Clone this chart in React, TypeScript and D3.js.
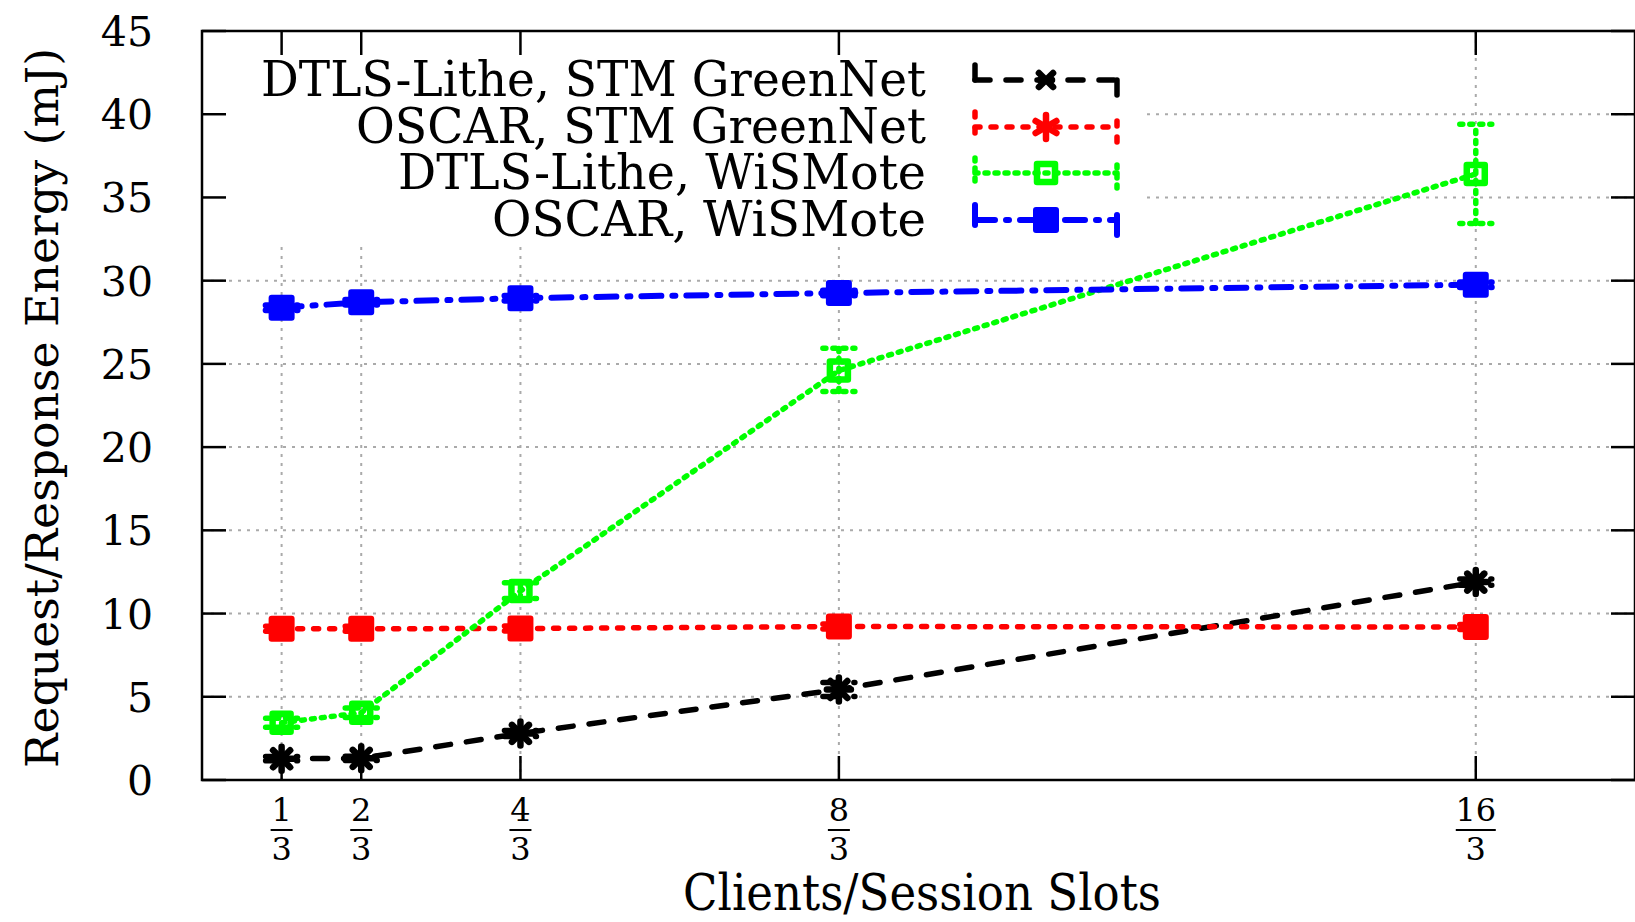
import React from 'react';
import * as d3 from 'd3';

// x positions are clients per session slot
const xValues = [1 / 3, 2 / 3, 4 / 3, 8 / 3, 16 / 3];
const xNumerators = ['1', '2', '4', '8', '16'];
const xDenominator = '3';
const yTicks = [0, 5, 10, 15, 20, 25, 30, 35, 40, 45];

const seriesLabels = [
  'DTLS-Lithe, STM GreenNet',
  'OSCAR, STM GreenNet',
  'DTLS-Lithe, WiSMote',
  'OSCAR, WiSMote',
];

const dtlsStm = [1.28, 1.3, 2.8, 5.44, 11.89];
const dtlsStmLow = [1.15, 1.17, 2.62, 5.02, 11.7];
const dtlsStmHigh = [1.41, 1.43, 2.98, 5.86, 12.08];

const oscarStm = [9.09, 9.09, 9.1, 9.22, 9.19];
const oscarStmLow = [8.94, 8.94, 8.95, 9.07, 9.04];
const oscarStmHigh = [9.24, 9.24, 9.25, 9.37, 9.34];

const dtlsWis = [3.44, 4.04, 11.35, 24.6, 36.41];
const dtlsWisLow = [3.17, 3.75, 10.9, 23.34, 33.44];
const dtlsWisHigh = [3.71, 4.33, 11.85, 25.94, 39.4];

const oscarWis = [28.38, 28.7, 28.95, 29.26, 29.76];
const oscarWisLow = [28.23, 28.55, 28.8, 29.11, 29.61];
const oscarWisHigh = [28.53, 28.85, 29.1, 29.41, 29.91];

const W = 1635, H = 922;
const m = { left: 202, right: 1635, top: 31, bottom: 780 };
const FONT = '"DejaVu Serif", "Liberation Serif", Times, serif';

const x = d3.scaleLinear().domain([0, 6]).range([m.left, m.right]);
const y = d3.scaleLinear().domain([0, 45]).range([m.bottom, m.top]);

type Style = { color: string; dash: string; width: number; marker: string; legendMarker: string };

const styles: Style[] = [
  { color: '#000000', dash: '15,16', width: 5.5, marker: 'asterisk', legendMarker: 'cross' },
  { color: '#ff0000', dash: '5,11', width: 5.5, marker: 'filled', legendMarker: 'star' },
  { color: '#00ff00', dash: '3,7', width: 5.5, marker: 'open', legendMarker: 'open' },
  { color: '#0000ff', dash: '20,11,3,11', width: 6, marker: 'filled', legendMarker: 'filled' },
];

const series = [
  { values: dtlsStm, low: dtlsStmLow, high: dtlsStmHigh },
  { values: oscarStm, low: oscarStmLow, high: oscarStmHigh },
  { values: dtlsWis, low: dtlsWisLow, high: dtlsWisHigh },
  { values: oscarWis, low: oscarWisLow, high: oscarWisHigh },
];

// measured widths of the key labels in the reference
const legendWidths = [665, 570, 528, 434];

function Marker({ type, cx, cy, color }: { type: string; cx: number; cy: number; color: string }) {
  if (type === 'asterisk' || type === 'cross' || type === 'star') {
    const angles = type === 'asterisk' ? [0, 45, 90, 135] : type === 'cross' ? [45, 135, 0] : [90, 30, 150];
    const r = type === 'cross' ? 10 : 12;
    return (
      <g>
        {angles.map((a, i) => {
          const rr = type === 'cross' && a === 0 ? 6 : r;
          const dx = Math.cos((a * Math.PI) / 180) * rr;
          const dy = Math.sin((a * Math.PI) / 180) * rr;
          return (
            <line key={i} x1={cx - dx} y1={cy - dy} x2={cx + dx} y2={cy + dy}
              stroke={color} strokeWidth={6.5} strokeLinecap="round" />
          );
        })}
      </g>
    );
  }
  if (type === 'open') {
    return <rect x={cx - 9} y={cy - 9} width={18} height={18} fill="none" stroke={color} strokeWidth={6.5} strokeLinejoin="round" />;
  }
  return <rect x={cx - 10} y={cy - 10} width={20} height={20} fill={color} stroke={color} strokeWidth={6} strokeLinejoin="round" />;
}

export default function App() {
  const line = d3.line<number>().x((_, i) => x(xValues[i])).y(d => y(d));
  const legendRows = [80, 127, 173, 220];
  const capW = 16;
  const textStyle = { fontFamily: FONT };

  return (
    <svg width={W} height={H} viewBox={`0 0 ${W} ${H}`}
      style={{ position: 'absolute', left: 0, top: 0, background: '#fff' }}>
      <rect width={W} height={H} fill="#fff" />

      {/* grid */}
      <g stroke="#aaaaaa" strokeWidth={2} strokeDasharray="3,6">
        {yTicks.slice(1, -1).map(t => (
          <line key={'gy' + t} x1={m.left} x2={m.right} y1={y(t)} y2={y(t)} />
        ))}
        {xValues.map((v, i) => (
          <line key={'gx' + i} x1={x(v)} x2={x(v)} y1={m.top} y2={m.bottom} />
        ))}
      </g>

      {/* opaque key box */}
      <rect x={m.left} y={m.top} width={1142 - m.left} height={245 - m.top} fill="#fff" />

      {/* series */}
      {series.map((s, si) => {
        const st = styles[si];
        return (
          <g key={'s' + si}>
            <path d={line(s.values) || ''} fill="none" stroke={st.color} strokeWidth={st.width}
              strokeDasharray={st.dash} strokeLinecap="round" strokeLinejoin="round" />
            {s.values.map((v, i) => {
              const cx = x(xValues[i]);
              return (
                <g key={'e' + i} stroke={st.color} strokeWidth={st.width} strokeDasharray={st.dash} strokeLinecap="round" fill="none">
                  <line x1={cx} x2={cx} y1={y(s.low[i])} y2={y(s.high[i])} />
                  <line x1={cx - capW} x2={cx + capW} y1={y(s.low[i])} y2={y(s.low[i])} />
                  <line x1={cx - capW} x2={cx + capW} y1={y(s.high[i])} y2={y(s.high[i])} />
                </g>
              );
            })}
            {s.values.map((v, i) => (
              <Marker key={'m' + i} type={st.marker} cx={x(xValues[i])} cy={y(v)} color={st.color} />
            ))}
          </g>
        );
      })}

      {/* frame and ticks */}
      <g stroke="#000" strokeWidth={2.5}>
        {yTicks.map(t => (
          <g key={'ty' + t}>
            <line x1={m.left} x2={m.left + 24} y1={y(t)} y2={y(t)} />
            <line x1={m.right - 24} x2={m.right} y1={y(t)} y2={y(t)} />
          </g>
        ))}
        {xValues.map((v, i) => (
          <g key={'tx' + i}>
            <line x1={x(v)} x2={x(v)} y1={m.bottom} y2={m.bottom - 24} />
            <line x1={x(v)} x2={x(v)} y1={m.top} y2={m.top + 24} />
          </g>
        ))}
        <rect x={m.left} y={m.top} width={m.right - m.left} height={m.bottom - m.top} fill="none" />
      </g>

      {/* y tick labels */}
      <g fontSize={41} textAnchor="end" fill="#000">
        {yTicks.map(t => (
          <text key={'yl' + t} x={153} y={y(t) + 15} style={textStyle}>{t}</text>
        ))}
      </g>

      {/* x tick labels as fractions */}
      <g fontSize={32} textAnchor="middle" fill="#000">
        {xValues.map((v, i) => {
          const cx = x(v);
          const bw = xNumerators[i].length * 18 + 4;
          return (
            <g key={'xl' + i}>
              <text x={cx} y={821} style={textStyle}>{xNumerators[i]}</text>
              <line x1={cx - bw / 2} x2={cx + bw / 2} y1={830} y2={830} stroke="#000" strokeWidth={2} />
              <text x={cx} y={860} style={textStyle}>{xDenominator}</text>
            </g>
          );
        })}
      </g>

      {/* axis titles */}
      <text x={922} y={910} style={textStyle} fontSize={50} textAnchor="middle" fill="#000"
        textLength={478} lengthAdjust="spacingAndGlyphs">
        Clients/Session Slots
      </text>
      <text transform="translate(58,408) rotate(-90)" style={textStyle} fontSize={44}
        textAnchor="middle" fill="#000" textLength={720} lengthAdjust="spacingAndGlyphs">
        Request/Response Energy (mJ)
      </text>

      {/* legend */}
      {seriesLabels.map((label, i) => {
        const st = styles[i];
        const ry = legendRows[i];
        const x0 = 975, x1 = 1117, mx = 1046;
        return (
          <g key={'lg' + i}>
            <text x={926} y={ry + 16} style={textStyle} fontSize={49} textAnchor="end" fill="#000"
              textLength={legendWidths[i]} lengthAdjust="spacingAndGlyphs">
              {label}
            </text>
            <g stroke={st.color} strokeWidth={st.width} strokeDasharray={st.dash} strokeLinecap="round" fill="none">
              <line x1={x0} x2={x1} y1={ry} y2={ry} />
              <line x1={x0} x2={x0} y1={ry - 15} y2={ry + 15} />
              <line x1={x1} x2={x1} y1={ry + 15} y2={ry - 15} />
            </g>
            <Marker type={st.legendMarker} cx={mx} cy={ry} color={st.color} />
          </g>
        );
      })}
    </svg>
  );
}
